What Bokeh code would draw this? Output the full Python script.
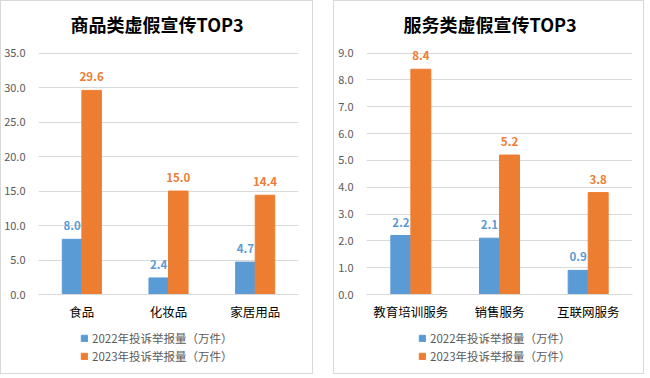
from bokeh.plotting import figure
from bokeh.models import (FactorRange, Range1d, ColumnDataSource, Legend, LegendItem,
                          NumeralTickFormatter, SingleIntervalTicker)
from bokeh.transform import dodge
from bokeh.layouts import row, column
from bokeh.core.properties import value
from bokeh.embed import file_html
from bokeh.resources import INLINE

# ---- data ----
goods_title = "商品类虚假宣传TOP3"
goods_cats = ["食品", "化妆品", "家居用品"]
goods_2022 = [8.0, 2.4, 4.7]
goods_2023 = [29.6, 15.0, 14.4]

serv_title = "服务类虚假宣传TOP3"
serv_cats = ["教育培训服务", "销售服务", "互联网服务"]
serv_2022 = [2.2, 2.1, 0.9]
serv_2023 = [8.4, 5.2, 3.8]

series_names = ["2022年投诉举报量（万件）", "2023年投诉举报量（万件）"]

BLUE = "#5b9bd5"
ORANGE = "#ed7d31"
GRID = "#d9d9d9"
TXT = "#595959"
FONT = "Noto Sans CJK SC"


def make_panel(title, cats, v22, v23, ymax, step, width, left, right, title_off, leg_x):
    src = ColumnDataSource(dict(cat=cats, v22=v22, v23=v23,
                                l22=[f"{v:.1f}" for v in v22],
                                l23=[f"{v:.1f}" for v in v23]))
    # a little headroom above the top gridline so the top value label is not clipped
    p = figure(x_range=FactorRange(*cats), y_range=Range1d(0, ymax * 1.04),
               width=width, height=322, output_backend="svg", toolbar_location=None,
               min_border_left=left, min_border_right=right,
               min_border_top=39, min_border_bottom=29,
               title=title)
    p.outline_line_color = None
    p.background_fill_color = "white"
    p.border_fill_color = "white"

    p.title.align = "left"
    p.title.offset = title_off
    p.title.text_font = FONT
    p.title.text_font_size = "18px"
    p.title.text_font_style = "bold"
    p.title.text_color = "#000000"
    p.title.standoff = 14

    w = 0.225
    off = 0.113
    p.vbar(x=dodge("cat", -off, range=p.x_range), top="v22", width=w,
           color=BLUE, source=src)
    p.vbar(x=dodge("cat", off, range=p.x_range), top="v23", width=w,
           color=ORANGE, source=src)
    p.text(x=dodge("cat", -off, range=p.x_range), y="v22", text="l22", source=src,
           text_align="center", text_baseline="bottom", y_offset=-9,
           text_font=value(FONT), text_font_size="11.5px", text_font_style="bold",
           text_color=BLUE)
    p.text(x=dodge("cat", off, range=p.x_range), y="v23", text="l23", source=src,
           text_align="center", text_baseline="bottom", y_offset=-9,
           text_font=value(FONT), text_font_size="11.5px", text_font_style="bold",
           text_color=ORANGE)

    p.xgrid.grid_line_color = None
    p.ygrid.grid_line_color = GRID
    p.ygrid.ticker = SingleIntervalTicker(interval=step)

    p.yaxis.ticker = SingleIntervalTicker(interval=step)
    p.yaxis.formatter = NumeralTickFormatter(format="0.0")
    p.yaxis.axis_line_color = None
    p.yaxis.major_tick_line_color = None
    p.yaxis.minor_tick_line_color = None
    p.yaxis.major_label_text_font = FONT
    p.yaxis.major_label_text_font_size = "11px"
    p.yaxis.major_label_text_color = TXT
    p.yaxis.major_label_standoff = 7

    p.xaxis.axis_line_color = GRID
    p.xaxis.major_tick_line_color = None
    p.xaxis.minor_tick_line_color = None
    p.xaxis.major_label_text_font = FONT
    p.xaxis.major_label_text_font_size = "12.5px"
    p.xaxis.major_label_text_color = "#000000"
    p.xaxis.major_label_standoff = 1

    # legend strip (separate small figure, legend inside its frame)
    lf = figure(width=width, height=50, output_backend="svg", toolbar_location=None,
                x_axis_type=None, y_axis_type=None, min_border=0)
    lf.outline_line_color = None
    lf.grid.grid_line_color = None
    lf.background_fill_color = "white"
    lf.border_fill_color = "white"
    # zero-size swatch renderers, only used to draw the legend squares
    r22 = lf.vbar(x=[0], top=[0], bottom=[0], width=0, fill_color=BLUE, line_color=BLUE)
    r23 = lf.vbar(x=[0], top=[0], bottom=[0], width=0, fill_color=ORANGE, line_color=ORANGE)
    legend = Legend(items=[LegendItem(label=series_names[0], renderers=[r22]),
                           LegendItem(label=series_names[1], renderers=[r23])],
                    orientation="vertical", location=(leg_x, 9))
    legend.border_line_color = None
    legend.background_fill_alpha = 0
    legend.label_text_font = FONT
    legend.label_text_font_size = "11.5px"
    legend.label_text_color = TXT
    legend.glyph_width = 8
    legend.glyph_height = 8
    legend.label_height = 16
    legend.label_standoff = 4
    legend.spacing = 2
    legend.padding = 0
    legend.margin = 0
    lf.add_layout(legend)

    box = column(p, lf, spacing=0)
    box.styles = {"border": "1px solid #d9d9d9"}
    return box


p1 = make_panel(goods_title, goods_cats, goods_2022, goods_2023, 35, 5, 311, 37, 14, 32, 42)
p2 = make_panel(serv_title, serv_cats, serv_2022, serv_2023, 9, 1, 309, 32, 11, 37, 52)

layout = row(p1, p2, spacing=20)
open("out.html", "w").write(file_html(layout, INLINE))
